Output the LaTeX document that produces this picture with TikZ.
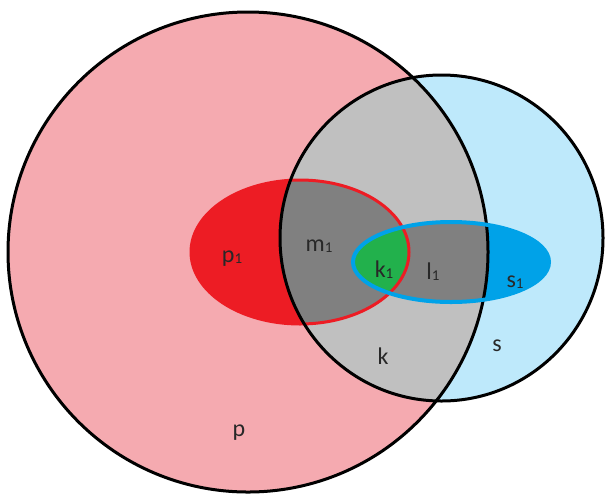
\documentclass[tikz,border=0pt]{standalone}
\usepackage{fontspec}
\setmainfont{Carlito}
\definecolor{ppink}{RGB}{245,170,176}
\definecolor{sblue}{RGB}{190,233,251}
\definecolor{lgray}{RGB}{192,192,192}
\definecolor{dgray}{RGB}{128,128,128}
\definecolor{pred}{RGB}{237,28,36}
\definecolor{bblue}{RGB}{0,162,232}
\definecolor{kgreen}{RGB}{34,177,76}
\definecolor{txt}{RGB}{40,40,40}
\newcommand{\one}{\raisebox{-1pt}{\fontsize{15}{15}\selectfont 1}}
\begin{document}
\begin{tikzpicture}[x=1pt,y=-1pt,
  lbl/.style={text=txt,font=\fontsize{24}{24}\selectfont,inner sep=0pt},
  outline/.style={draw=black,line width=3pt}]
\useasboundingbox (0,0) rectangle (609,499);
\def\Pc{(248,252) circle [radius=240pt]}
\def\Sc{(441.5,238) ellipse [x radius=161.5pt, y radius=163pt]}
\def\Rc{(300,252) ellipse [x radius=109pt, y radius=72pt]}
\def\Bc{(451,262) ellipse [x radius=98pt, y radius=40pt]}
% base fills
\fill[ppink] \Pc;
\fill[sblue] \Sc;
\begin{scope}\clip \Pc; \fill[lgray] \Sc; \end{scope}
% red ellipse p1
\fill[pred] \Rc;
\begin{scope}\clip \Sc; \fill[dgray] \Rc; \end{scope}
% blue ellipse s1
\fill[bblue] \Bc;
\begin{scope}\clip \Pc; \fill[dgray] \Bc; \end{scope}
\begin{scope}\clip \Rc; \fill[kgreen] \Bc; \end{scope}
% outlines
\draw[pred,line width=3pt] \Rc;
\draw[outline] \Pc;
\draw[outline] \Sc;
\draw[bblue,line width=4pt] \Bc;
% labels
\node[lbl] (p1) at (232,259) {p\one};
\node[lbl] (m1) at (319,246) {m\one};
\node[lbl] (k1) at (384,270) {k\one};
\node[lbl] (l1) at (433,272) {l\one};
\node[lbl] (s1) at (515,282) {s\one};
\node[lbl] (k) at (383,356) {k};
\node[lbl] (s) at (497,346) {s};
\node[lbl] (p) at (239,433) {p};
\end{tikzpicture}
\end{document}
